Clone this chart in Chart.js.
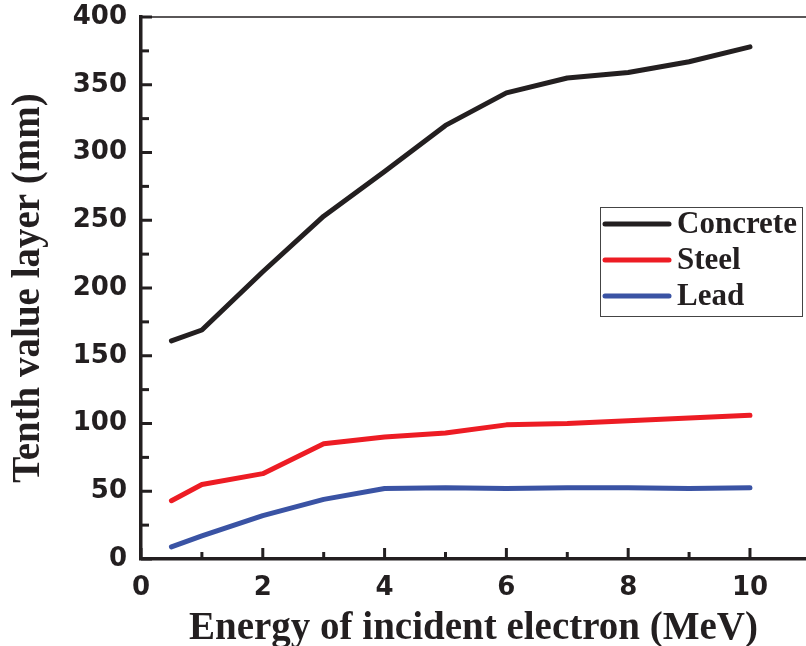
<!DOCTYPE html>
<html>
<head>
<meta charset="utf-8">
<script src="https://cdn.jsdelivr.net/npm/chart.js@4.4.1/dist/chart.umd.min.js"></script>
<style>
  html, body { margin: 0; padding: 0; background: #fff; }
  #wrap { width: 806px; height: 646px; position: relative; }
</style>
</head>
<body>
<div id="wrap"><canvas id="myChart" width="806" height="646"></canvas></div>
<script>
// energies (MeV)
const energy = [0.5, 1, 2, 3, 4, 5, 6, 7, 8, 9, 10];
// tenth value layer (mm)
const concrete = [161, 169, 212, 253, 286, 320, 344, 355, 359, 367, 378];
const steel = [43, 55, 63, 85, 90, 93, 99, 100, 102, 104, 106];
const lead = [9, 17, 32, 44, 52, 52.5, 52, 52.5, 52.5, 52, 52.5];

const seriesNames = ['Concrete', 'Steel', 'Lead'];
const seriesColors = ['#231f20', '#ed1c24', '#3a53a4'];

const xTicks = [0, 2, 4, 6, 8, 10];
const xMinor = [1, 3, 5, 7, 9];
const yTicks = [0, 50, 100, 150, 200, 250, 300, 350, 400];
const yMinor = [25, 75, 125, 175, 225, 275, 325, 375];

const axisColor = '#231f20';

function pts(vals) {
  return energy.map((e, i) => ({ x: e, y: vals[i] }));
}

// axis ticks pointing into the plot + thin top frame
const innerTicks = {
  id: 'innerTicks',
  afterDraw(chart) {
    const ctx = chart.ctx;
    const a = chart.chartArea;
    const xs = chart.scales.x, ys = chart.scales.y;
    ctx.save();
    ctx.strokeStyle = axisColor;
    ctx.lineCap = 'butt';
    ctx.lineWidth = 3;
    xTicks.forEach(v => {
      const px = xs.getPixelForValue(v);
      ctx.beginPath(); ctx.moveTo(px, a.bottom); ctx.lineTo(px, a.bottom - 11); ctx.stroke();
    });
    xMinor.forEach(v => {
      const px = xs.getPixelForValue(v);
      ctx.beginPath(); ctx.moveTo(px, a.bottom); ctx.lineTo(px, a.bottom - 7); ctx.stroke();
    });
    yTicks.forEach(v => {
      const py = ys.getPixelForValue(v);
      ctx.beginPath(); ctx.moveTo(a.left, py); ctx.lineTo(a.left + 11, py); ctx.stroke();
    });
    yMinor.forEach(v => {
      const py = ys.getPixelForValue(v);
      ctx.beginPath(); ctx.moveTo(a.left, py); ctx.lineTo(a.left + 8, py); ctx.stroke();
    });
    // top frame
    ctx.lineWidth = 1.5;
    ctx.beginPath(); ctx.moveTo(a.left, a.top); ctx.lineTo(a.right, a.top); ctx.stroke();
    ctx.restore();
  }
};

// legend box inside the plot
const boxLegend = {
  id: 'boxLegend',
  afterDatasetsDraw(chart) {
    const ctx = chart.ctx;
    const bx = 600, by = 207, bw = 202, bh = 109;
    ctx.save();
    ctx.fillStyle = '#fff';
    ctx.fillRect(bx, by, bw, bh);
    ctx.strokeStyle = '#444';
    ctx.lineWidth = 1;
    ctx.strokeRect(bx + 0.5, by + 0.5, bw, bh);
    ctx.font = 'bold 31px "Liberation Serif"';
    ctx.textBaseline = 'middle';
    chart.data.datasets.forEach((ds, i) => {
      const ry = by + 17 + i * 36;
      ctx.strokeStyle = ds.borderColor;
      ctx.lineWidth = 5;
      ctx.lineCap = 'round';
      ctx.beginPath(); ctx.moveTo(605, ry); ctx.lineTo(669, ry); ctx.stroke();
      ctx.fillStyle = axisColor;
      ctx.fillText(ds.label, 677, ry + 1);
    });
    ctx.restore();
  }
};

const mk = (i, vals) => ({
  label: seriesNames[i],
  data: pts(vals),
  borderColor: seriesColors[i],
  backgroundColor: seriesColors[i],
  borderWidth: 5,
  pointRadius: 0,
  tension: 0,
  borderCapStyle: 'round',
  borderJoinStyle: 'round'
});

const ctx = document.getElementById('myChart').getContext('2d');
const myChart = new Chart(ctx, {
  type: 'line',
  data: { datasets: [mk(0, concrete), mk(1, steel), mk(2, lead)] },
  options: {
    responsive: false,
    animation: false,
    layout: { padding: { top: 17, right: 0, left: 0, bottom: 0 } },
    plugins: { legend: { display: false }, tooltip: { enabled: false } },
    scales: {
      x: {
        type: 'linear',
        min: 0,
        max: 10.92,
        afterBuildTicks: s => { s.ticks = xTicks.map(v => ({ value: v })); },
        afterFit: s => { s.height = 87; s.paddingLeft = 0; s.paddingRight = 0; },
        grid: { display: false },
        border: { display: true, width: 3.5, color: axisColor },
        ticks: {
          color: axisColor,
          padding: 6,
          maxRotation: 0,
          font: { family: '"DejaVu Sans"', weight: 'bold', size: 26 }
        },
        title: {
          display: true,
          text: 'Energy of incident electron (MeV)',
          color: axisColor,
          padding: { top: 4, bottom: -6 },
          font: { family: '"Liberation Serif"', weight: 'bold', size: 39 }
        }
      },
      y: {
        min: 0,
        max: 400,
        afterBuildTicks: s => { s.ticks = yTicks.map(v => ({ value: v })); },
        afterFit: s => { s.width = 141; s.paddingTop = 0; s.paddingBottom = 0; },
        grid: { display: false },
        border: { display: true, width: 3.5, color: axisColor },
        ticks: {
          color: axisColor,
          padding: 6,
          font: { family: '"DejaVu Sans"', weight: 'bold', size: 26 }
        },
        title: {
          display: true,
          text: 'Tenth value layer (mm)',
          color: axisColor,
          padding: { top: 6, bottom: 0 },
          font: { family: '"Liberation Serif"', weight: 'bold', size: 39 }
        }
      }
    }
  },
  plugins: [innerTicks, boxLegend]
});
</script>
</body>
</html>
